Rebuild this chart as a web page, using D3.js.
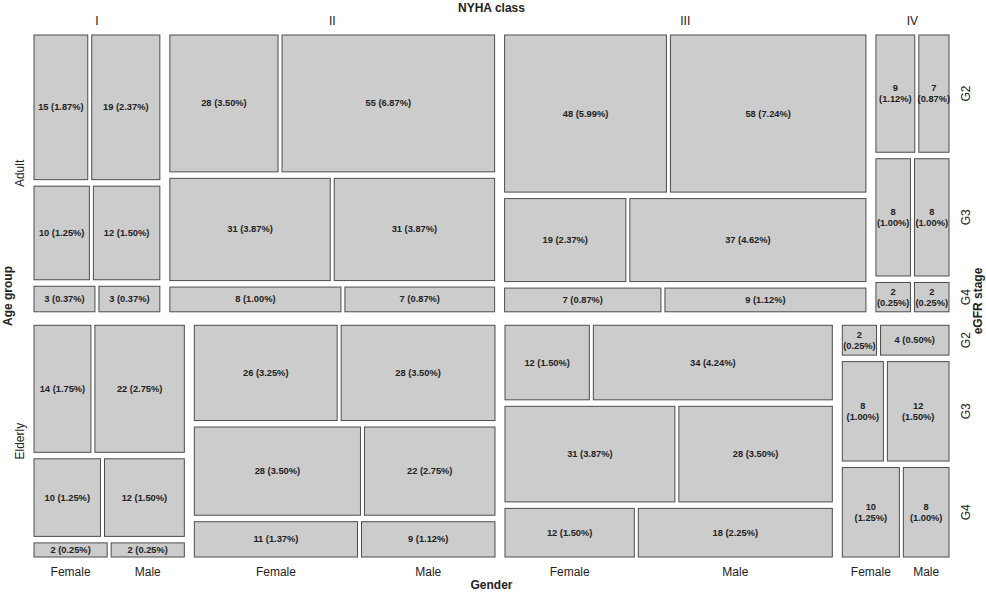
<!DOCTYPE html>
<html>
<head>
<meta charset="utf-8">
<script src="https://cdn.jsdelivr.net/npm/d3@7"></script>
<style>
  body { margin: 0; background: #fff; }
  text { font-family: "Liberation Sans", Arial, Helvetica, sans-serif; }
</style>
</head>
<body>
<div id="chart"></div>
<script>
// mosaic: Age group (rows) > NYHA class (cols) > eGFR stage (rows) > Gender (cols)
const ageGroups = ['Adult', 'Elderly'];
const nyhaClasses = ['I', 'II', 'III', 'IV'];
const egfrStages = ['G2', 'G3', 'G4'];
const genders = ['Female', 'Male'];

// [nyha][egfr] = [female, male]
const adultCounts = [
  [[15, 19], [10, 12], [3, 3]],
  [[28, 55], [31, 31], [8, 7]],
  [[48, 58], [19, 37], [7, 9]],
  [[9, 7], [8, 8], [2, 2]]
];
const elderlyCounts = [
  [[14, 22], [10, 12], [2, 2]],
  [[26, 28], [28, 22], [11, 9]],
  [[12, 34], [31, 28], [12, 18]],
  [[2, 4], [8, 12], [10, 8]]
];

const width = 986, height = 593;
const box = { x0: 34, x1: 949, y0: 35, y1: 557 };
const gaps = [13.5, 10, 6.5, 4];

const countsByAge = [adultCounts, elderlyCounts];
const total = d3.sum(countsByAge.flat(3));

// split a range into pieces proportional to values, with a gap in between
function split(a, b, values, gap) {
  const avail = (b - a) - gap * (values.length - 1);
  const s = d3.scaleLinear().domain([0, d3.sum(values)]).range([0, avail]);
  const before = [0, ...d3.cumsum(values)];
  return values.map((v, i) => [a + s(before[i]) + i * gap, a + s(before[i + 1]) + i * gap]);
}

const cells = [];
const ageRows = split(box.y0, box.y1, countsByAge.map(c => d3.sum(c.flat(2))), gaps[0]);
const nyhaCols = [];
const egfrRows = [];
ageRows.forEach(([ya, yb], ai) => {
  const data = countsByAge[ai];
  const cols = split(box.x0, box.x1, data.map(c => d3.sum(c.flat())), gaps[1]);
  nyhaCols.push(cols);
  egfrRows.push([]);
  cols.forEach(([xa, xb], ni) => {
    const rows = split(ya, yb, data[ni].map(d => d3.sum(d)), gaps[2]);
    egfrRows[ai].push(rows);
    rows.forEach(([ra, rb], ei) => {
      const gcols = split(xa, xb, data[ni][ei], gaps[3]);
      gcols.forEach(([ga, gb], gi) => {
        cells.push({ age: ai, nyha: ni, egfr: ei, gender: gi, n: data[ni][ei][gi],
          x: ga, y: ra, w: gb - ga, h: rb - ra });
      });
    });
  });
});

const svg = d3.select('#chart').append('svg')
  .attr('width', width)
  .attr('height', height);

const tiles = svg.append('g').selectAll('g')
  .data(cells)
  .enter().append('g');

tiles.append('rect')
  .attr('x', d => d.x)
  .attr('y', d => d.y)
  .attr('width', d => d.w)
  .attr('height', d => d.h)
  .attr('fill', '#cccccc')
  .attr('stroke', '#4d4d4d')
  .attr('stroke-width', 1);

const pct = d3.format('.2f');
tiles.each(function (d) {
  const g = d3.select(this);
  const cx = d.x + d.w / 2, cy = d.y + d.h / 2;
  const t = g.append('text')
    .attr('x', cx)
    .attr('y', cy)
    .attr('text-anchor', 'middle')
    .attr('dominant-baseline', 'central')
    .attr('font-size', 9.3)
    .attr('font-weight', 'bold')
    .attr('fill', '#222')
    .text(d.n + ' (' + pct(d.n / total * 100) + '%)');
  const tw = t.node().getComputedTextLength();
  // narrow NYHA IV tiles get the count and percent on two lines
  const wrap = tw > d.w - 2 || (nyhaClasses[d.nyha] === 'IV' && tw + 20 > d.w);
  if (wrap) {
    t.text(null);
    t.append('tspan').attr('x', cx).attr('y', cy - 5.5).text(d.n);
    t.append('tspan').attr('x', cx).attr('y', cy + 5.5).text('(' + pct(d.n / total * 100) + '%)');
  }
});

const labels = svg.append('g')
  .attr('font-size', 12)
  .attr('fill', '#222')
  .attr('text-anchor', 'middle')
  .attr('dominant-baseline', 'central');

// top: NYHA class (first age row)
labels.selectAll('.nyha')
  .data(nyhaCols[0])
  .enter().append('text')
  .attr('x', d => (d[0] + d[1]) / 2)
  .attr('y', 20.5)
  .text((d, i) => nyhaClasses[i]);

// left: age group
labels.selectAll('.age')
  .data(ageRows)
  .enter().append('text')
  .attr('transform', d => 'translate(20,' + (d[0] + d[1]) / 2 + ') rotate(-90)')
  .text((d, i) => ageGroups[i]);

// right: eGFR stage (last NYHA column)
egfrRows.forEach(rows => {
  const last = rows[rows.length - 1];
  last.forEach((r, i) => {
    labels.append('text')
      .attr('transform', 'translate(965.5,' + (r[0] + r[1]) / 2 + ') rotate(-90)')
      .text(egfrStages[i]);
  });
});

// bottom: gender (last age row, last eGFR row)
cells.filter(c => c.age === ageGroups.length - 1 && c.egfr === egfrStages.length - 1)
  .forEach(c => {
    labels.append('text')
      .attr('x', c.x + c.w / 2)
      .attr('y', 571.5)
      .text(genders[c.gender]);
  });

// variable names
const cxAll = (box.x0 + box.x1) / 2, cyAll = (box.y0 + box.y1) / 2;
labels.append('text').attr('x', cxAll).attr('y', 7.5)
  .attr('font-weight', 'bold').text('NYHA class');
labels.append('text').attr('x', cxAll).attr('y', 585)
  .attr('font-weight', 'bold').text('Gender');
labels.append('text').attr('transform', 'translate(7.5,' + cyAll + ') rotate(-90)')
  .attr('font-weight', 'bold').text('Age group');
labels.append('text').attr('transform', 'translate(978,' + (cyAll + 5) + ') rotate(-90)')
  .attr('font-weight', 'bold').text('eGFR stage');
</script>
</body>
</html>
